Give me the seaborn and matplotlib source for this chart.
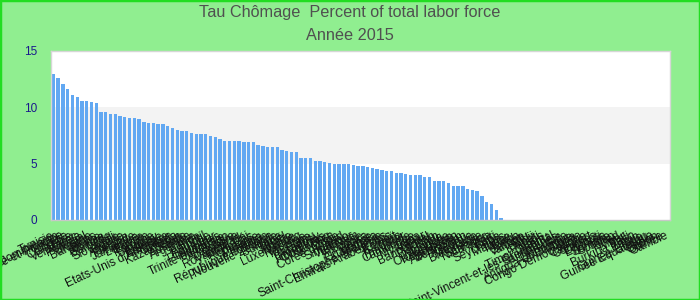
import matplotlib
matplotlib.use("Agg")
import matplotlib.pyplot as plt
import seaborn as sns
import pandas as pd
from matplotlib.patches import Rectangle

pays = [
    "Tunisie", "République Dominicaine", "Sao Tomé-et-Principe", "Turquie", "Colombie",
    "Maroc", "Venezuela", "Portugal", "Ukraine", "Bahamas",
    "Belize", "Albanie", "Barbade", "Chili", "Slovaquie",
    "Algérie", "Arménie", "Finlande", "Jamaïque", "Lettonie",
    "Egypte", "Pologne", "Uruguay", "Estonie", "Belgique",
    "Etats-Unis d'Amérique", "Canada", "Kazakhstan", "Suède", "Australie",
    "Argentine", "Irlande", "Brésil", "Autriche", "Equateur",
    "Philippines", "Indonésie", "Trinité-et-Tobago", "Russie", "Allemagne",
    "Danemark", "Royaume-Uni", "Pays-Bas", "Roumanie", "Panama",
    "Hongrie", "République Tchèque", "Nouvelle-Zélande", "Bulgarie", "Israël",
    "Malte", "Islande", "Luxembourg", "Norvège", "Mexique",
    "Pérou", "Paraguay", "Honduras", "Hong Kong", "Costa Rica",
    "Chine", "Corée du Sud", "Macao", "Singapour", "Viêt Nam",
    "Suisse", "Sri Lanka", "Bolivie", "Guatemala", "Malaisie",
    "Saint-Christophe-et-Niévès", "Emirats Arabes Unis", "Koweït", "Bahreïn", "Qatar",
    "Thaïlande", "Cambodge", "Laos", "Myanmar", "Népal",
    "Bangladesh", "Pakistan", "Inde", "Mongolie", "Ouzbékistan",
    "Kirghizistan", "Tadjikistan", "Azerbaïdjan", "Géorgie", "Moldavie",
    "Biélorussie", "Salvador", "Nicaragua", "Haïti", "Cuba",
    "Seychelles", "Maurice", "Tuvalu", "Tonga", "Samoa",
    "Vanuatu", "Fidji", "Kiribati", "Palaos", "Nauru",
    "Timor Oriental", "Saint-Vincent-et-les-Grenadines", "Sainte-Lucie", "Grenade", "Dominique",
    "Antigua-et-Barbuda", "Congo", "Congo Démocratique", "Cap-Vert", "Comores",
    "Djibouti", "Erythrée", "Somalie", "Soudan", "Tchad",
    "Niger", "Mali", "Burkina Faso", "Bénin", "Togo",
    "Guinée-Bissau", "Guinée Equatoriale", "Gabon", "Guinée", "Gambie",
]

taux = [
    12.95, 12.59, 12.05, 11.61, 11.07, 10.89, 10.54, 10.54, 10.45, 10.36,
    9.55, 9.55, 9.38, 9.38, 9.20, 9.11, 9.02, 9.02, 8.93, 8.66,
    8.57, 8.57, 8.48, 8.48, 8.30, 8.21, 7.95, 7.86, 7.86, 7.68,
    7.59, 7.59, 7.59, 7.50, 7.41, 7.23, 7.05, 7.05, 7.05, 7.05,
    6.88, 6.88, 6.88, 6.70, 6.61, 6.52, 6.52, 6.52, 6.25, 6.16,
    6.07, 6.07, 5.54, 5.54, 5.54, 5.27, 5.27, 5.18, 5.09, 5.00,
    5.00, 5.00, 5.00, 4.91, 4.82, 4.82, 4.73, 4.64, 4.55, 4.46,
    4.38, 4.38, 4.20, 4.20, 4.11, 4.02, 4.02, 4.02, 3.84, 3.84,
    3.48, 3.48, 3.48, 3.30, 3.04, 3.04, 3.04, 2.77, 2.68, 2.59,
    2.14, 1.61, 1.43, 0.89, 0.18,
    0, 0, 0, 0, 0, 0, 0, 0, 0, 0,
    0, 0, 0, 0, 0, 0, 0, 0, 0, 0,
    0, 0, 0, 0, 0, 0, 0, 0, 0, 0,
    0, 0, 0, 0, 0,
]

yticks = [0, 5, 10, 15]
titre = "Tau Chômage  Percent of total labor force"
sous_titre = "Année 2015"

df = pd.DataFrame({"pays": pays, "taux": taux})

sns.set_theme(style="white")
plt.rcParams["font.family"] = ["Liberation Sans", "DejaVu Sans"]

fig = plt.figure(figsize=(7, 3), dpi=100, facecolor="#90EE90")
ax = fig.add_axes([51 / 700, 80 / 300, 619 / 700, 169 / 300])
ax.set_facecolor("white")
ax.axhspan(5, 10, color="#f3f3f3", zorder=0, lw=0)

sns.barplot(data=df, x="pays", y="taux", color="#62a8f2", saturation=1,
            width=0.7, ax=ax, zorder=2, linewidth=0, edgecolor="none")

ax.set_xlim(-0.5, len(pays) - 0.5)
ax.set_ylim(0, 15)
ax.set_yticks(yticks)
ax.set_yticklabels([str(v) for v in yticks], color="#1a1a8c", fontsize=8.5)
ax.set_xlabel("")
ax.set_ylabel("")
ax.tick_params(axis="y", length=0, pad=10)
ax.tick_params(axis="x", length=0, pad=11)
plt.setp(ax.get_xticklabels(), rotation=25, ha="right", va="center",
         rotation_mode="anchor", fontsize=8.5, color="#111111")
for s in ax.spines.values():
    s.set_color("#d6d6d6")
    s.set_linewidth(1)
ax.spines["bottom"].set_color("#c8c8c8")

fig.text(0.5, 1 - 13 / 300, titre, ha="center", va="center",
         fontsize=11.7, color="#505050")
fig.text(0.5, 1 - 35 / 300, sous_titre, ha="center", va="center",
         fontsize=11.7, color="#505050")

fig.patches.append(Rectangle((0, 0), 1, 1, transform=fig.transFigure,
                             fill=False, edgecolor="#22dd22", linewidth=2.5))

fig.savefig("out.png", dpi=100, facecolor=fig.get_facecolor())
